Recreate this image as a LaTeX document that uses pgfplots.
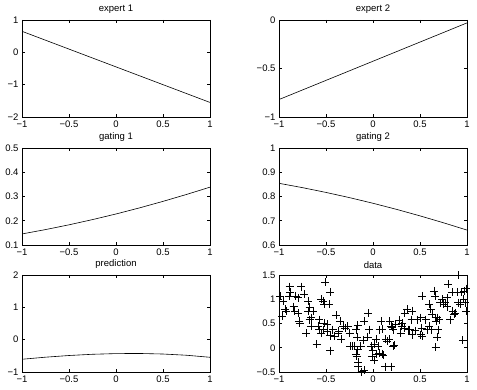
\documentclass[border=0pt]{standalone}
\usepackage{pgfplots}
\pgfplotsset{compat=1.18}
\usepackage{fontspec}
\setmainfont{Liberation Sans}
\pgfplotsset{mystyle/.style={
  scale only axis, width=188pt, height=97pt,
  xmin=-1, xmax=1, xtick={-1,-0.5,0,0.5,1},
  xticklabels={−1,−0.5,0,0.5,1},
  tick label style={font=\fontsize{9.5}{10}\selectfont},
  title style={font=\fontsize{9.5}{10}\selectfont, yshift=-3pt},
  major tick length=3pt,
  tick style={black, line width=0.5pt},
  axis line style={line width=0.6pt},
  anchor=south west,
  every axis plot/.append style={black, line width=0.6pt},
}}
\begin{document}
\begin{tikzpicture}
\useasboundingbox (0pt,0pt) rectangle (477pt,390pt);
% expert 1
\begin{axis}[mystyle, at={(22pt,273pt)}, title={expert 1},
  ymin=-2, ymax=1, ytick={-2,-1,0,1}, yticklabels={−2,−1,0,1}]
\addplot[no marks] coordinates {(-1,0.65) (-0.5,0.10) (0,-0.45) (0.5,-1.0) (1,-1.55)};
\end{axis}
% expert 2
\begin{axis}[mystyle, at={(279pt,273pt)}, title={expert 2},
  ymin=-1, ymax=0, ytick={-1,-0.5,0}, yticklabels={−1,−0.5,0}]
\addplot[no marks] coordinates {(-1,-0.82) (-0.5,-0.6225) (0,-0.425) (0.5,-0.2275) (1,-0.03)};
\end{axis}
% gating 1
\begin{axis}[mystyle, at={(22pt,145pt)}, title={gating 1},
  ymin=0.1, ymax=0.5, ytick={0.1,0.2,0.3,0.4,0.5}, yticklabels={0.1,0.2,0.3,0.4,0.5}]
\addplot[no marks] coordinates {(-1,0.1456) (-0.75,0.1635) (-0.5,0.1832) (-0.25,0.2047) (0,0.2279) (0.25,0.2530) (0.5,0.2799) (0.75,0.3084) (1,0.3385)};
\end{axis}
% gating 2
\begin{axis}[mystyle, at={(279pt,145pt)}, title={gating 2},
  ymin=0.6, ymax=1, ytick={0.6,0.7,0.8,0.9,1}, yticklabels={0.6,0.7,0.8,0.9,1}]
\addplot[no marks] coordinates {(-1,0.8544) (-0.75,0.8365) (-0.5,0.8168) (-0.25,0.7953) (0,0.7721) (0.25,0.7470) (0.5,0.7201) (0.75,0.6916) (1,0.6615)};
\end{axis}
% prediction
\begin{axis}[mystyle, at={(22pt,18pt)}, title={prediction},
  ymin=-1, ymax=2, ytick={-1,0,1,2}, yticklabels={−1,0,1,2}]
\addplot[no marks] coordinates {(-1,-0.606) (-0.75,-0.542) (-0.5,-0.490) (-0.25,-0.452) (0,-0.431) (0.25,-0.427) (0.5,-0.444) (0.75,-0.482) (1,-0.545)};
\end{axis}
% data
\begin{axis}[mystyle, at={(279pt,18pt)}, title={data},
  ymin=-0.5, ymax=1.5, ytick={-0.5,0,0.5,1,1.5}, yticklabels={−0.5,0,0.5,1,1.5}]
\addplot[only marks, mark=+, mark size=4pt, line width=0.6pt] coordinates {
(-0.986,1.07) (-0.958,0.965) (-0.965,0.65) (-0.933,0.79) (-0.887,1.26) (-0.894,1.07)
(-0.922,0.76) (-0.845,0.85) (-0.834,0.76) (-0.824,1.07) (-0.80,1.03) (-0.764,1.26)
(-0.788,0.55) (-0.78,0.51) (-0.73,1.10) (-0.69,0.965) (-0.675,0.83) (-0.69,0.76)
(-0.675,0.58) (-0.64,0.76) (-0.71,0.30) (-0.66,0.44) (-0.60,0.08) (-0.57,0.58)
(-0.55,1.0) (-0.53,0.965) (-0.506,1.35) (-0.457,1.15) (-0.47,0.90) (-0.517,0.51)
(-0.49,0.48) (-0.57,0.375) (-0.53,0.375) (-0.55,0.30) (-0.457,0.25) (-0.457,-0.06)
(-0.43,0.375) (-0.39,0.67) (-0.365,0.34) (-0.37,0.30) (-0.41,0.24) (-0.35,0.55)
(-0.34,0.17) (-0.32,0.44) (-0.27,0.44) (-0.245,0.04) (-0.22,0.03) (-0.20,0.03)
(-0.18,-0.125) (-0.164,0.46) (-0.18,0.375) (-0.17,0.22) (-0.164,-0.04) (-0.175,-0.17)
(-0.157,-0.30) (-0.155,-0.39) (-0.13,0.03) (-0.12,-0.49) (-0.093,-0.46) (-0.104,0.15)
(-0.093,0.55) (-0.048,0.71) (-0.04,0.375) (-0.058,0.22) (-0.023,0.03) (-0.005,-0.06)
(-0.012,-0.18) (0.012,-0.25) (0.03,-0.125) (0.03,0.17) (0.012,0.08) (0.058,0.03)
(0.065,-0.11) (0.07,0.375) (0.083,0.55) (0.10,0.39) (0.094,-0.125) (0.108,-0.15)
(0.13,-0.39) (0.19,-0.39) (0.135,0.18) (0.153,0.13) (0.17,0.17) (0.178,0.55)
(0.19,0.44) (0.206,0.43) (0.217,0.03) (0.224,0.06) (0.24,0.48) (0.213,0.375)
(0.277,0.57) (0.295,0.30) (0.305,0.44) (0.312,0.51) (0.33,0.41) (0.337,0.72)
(0.365,0.79) (0.376,0.375) (0.39,0.375) (0.418,0.76) (0.41,0.58) (0.418,0.27)
(0.47,0.58) (0.506,0.62) (0.517,0.41) (0.506,0.27) (0.524,0.24) (0.524,1.07)
(0.56,0.58) (0.577,0.375) (0.594,0.90) (0.612,0.79) (0.63,0.69) (0.62,0.375)
(0.647,1.17) (0.658,1.07) (0.665,0.62) (0.672,0.55) (0.683,0.62) (0.69,0.375)
(0.683,0.22) (0.665,0.01) (0.70,0.58) (0.718,0.93) (0.735,1.0) (0.753,0.90)
(0.77,0.93) (0.788,0.85) (0.80,1.31) (0.788,1.03) (0.824,0.58) (0.84,1.14)
(0.848,0.76) (0.86,0.69) (0.877,0.72) (0.894,1.14) (0.905,0.93) (0.912,1.49)
(0.93,0.90) (0.94,1.14) (0.955,0.15) (0.972,1.17) (0.98,0.93) (0.993,0.76)
(0.965,1.0) (0.993,1.22) (-0.80,0.72) (-0.88,1.14) (-0.517,0.90) (-0.49,0.34)
(-0.585,0.44) (-0.66,0.62) (-0.30,0.40) (-0.25,0.30) (0.45,0.35) (0.60,0.45)
};
\end{axis}
\end{tikzpicture}
\end{document}
